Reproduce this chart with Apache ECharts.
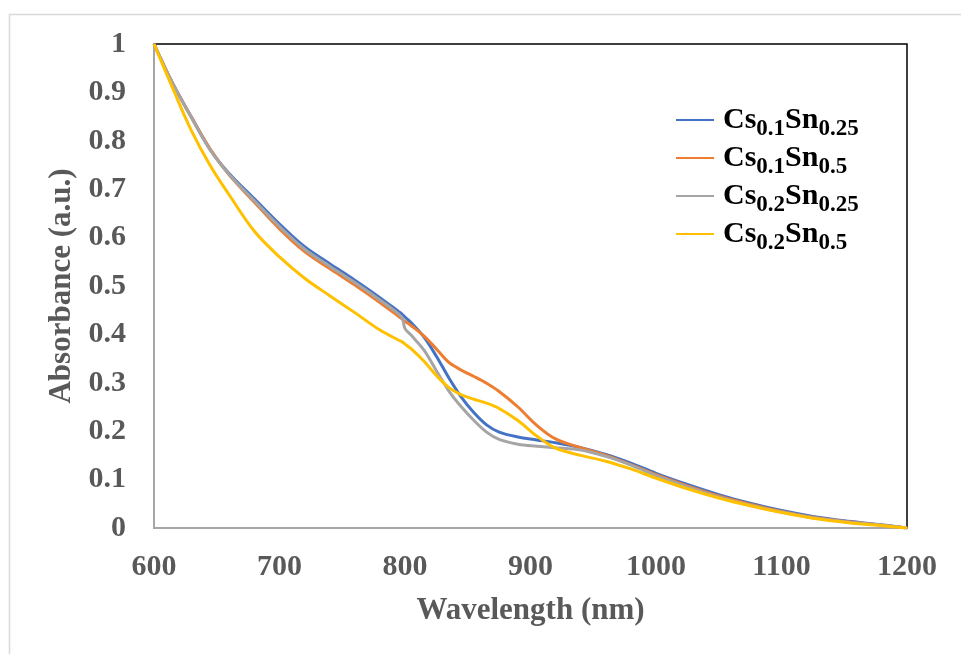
<!DOCTYPE html>
<html>
<head>
<meta charset="utf-8">
<style>
  html, body { margin: 0; padding: 0; background: #ffffff; }
  #chart { width: 961px; height: 654px; }
</style>
<script src="https://cdn.jsdelivr.net/npm/echarts@6/dist/echarts.min.js"></script>
</head>
<body>
<div id="chart"></div>
<script>
// Wavelength sampling (nm), shared by all four spectra
const wavelengths = [600, 615, 630, 645, 660, 680, 700, 720, 740, 760, 780, 795, 798, 800, 805, 815, 825, 835, 845, 855, 865, 875, 890, 905, 920, 940, 960, 980, 1000, 1025, 1050, 1075, 1100, 1125, 1150, 1175, 1200];

// Normalised absorbance of each composition
const cs01sn025 = [1.0, 0.918, 0.848, 0.781, 0.732, 0.680, 0.628, 0.581, 0.546, 0.512, 0.476, 0.447, 0.441, 0.436, 0.424, 0.395, 0.355, 0.310, 0.270, 0.238, 0.213, 0.198, 0.188, 0.182, 0.176, 0.166, 0.152, 0.134, 0.113, 0.090, 0.069, 0.051, 0.036, 0.024, 0.015, 0.008, 0.0];
const cs01sn05  = [1.0, 0.918, 0.848, 0.782, 0.729, 0.673, 0.618, 0.571, 0.536, 0.502, 0.466, 0.437, 0.431, 0.427, 0.418, 0.397, 0.370, 0.342, 0.326, 0.313, 0.299, 0.282, 0.250, 0.212, 0.184, 0.166, 0.150, 0.131, 0.110, 0.087, 0.066, 0.049, 0.034, 0.022, 0.014, 0.007, 0.0];
const cs02sn025 = [1.0, 0.918, 0.847, 0.780, 0.730, 0.676, 0.623, 0.576, 0.541, 0.507, 0.471, 0.442, 0.433, 0.412, 0.398, 0.368, 0.325, 0.283, 0.250, 0.222, 0.198, 0.183, 0.173, 0.169, 0.166, 0.161, 0.148, 0.130, 0.108, 0.085, 0.064, 0.047, 0.033, 0.021, 0.013, 0.007, 0.0];
const cs02sn05  = [1.0, 0.908, 0.820, 0.748, 0.688, 0.613, 0.560, 0.516, 0.480, 0.445, 0.409, 0.388, 0.384, 0.380, 0.370, 0.345, 0.315, 0.290, 0.275, 0.266, 0.258, 0.247, 0.222, 0.190, 0.165, 0.150, 0.138, 0.122, 0.103, 0.081, 0.062, 0.046, 0.032, 0.020, 0.012, 0.006, 0.0];

// Legend labels: composition subscripts for Cs and Sn
const seriesNames = ['Cs0.1Sn0.25', 'Cs0.1Sn0.5', 'Cs0.2Sn0.25', 'Cs0.2Sn0.5'];
const csSub = ['0.1', '0.1', '0.2', '0.2'];
const snSub = ['0.25', '0.5', '0.25', '0.5'];
const seriesValues = [cs01sn025, cs01sn05, cs02sn025, cs02sn05];
const seriesColors = ['#4472C4', '#ED7D31', '#A5A5A5', '#FFC000'];

// Axis ticks
const xTicks = { min: 600, max: 1200, interval: 100 };
const yTicks = { min: 0, max: 1, interval: 0.1 };

const serif = '"Liberation Serif", "Times New Roman", serif';

const chart = echarts.init(document.getElementById('chart'), null, { renderer: 'canvas' });

const series = seriesNames.map((name, i) => ({
  name: name,
  type: 'line',
  data: wavelengths.map((w, k) => [w, seriesValues[i][k]]),
  smooth: 0.35,
  symbol: 'none',
  lineStyle: { width: 3, color: seriesColors[i] },
  itemStyle: { color: seriesColors[i] },
  z: 3 + i
}));

const option = {
  backgroundColor: '#ffffff',
  animation: false,
  graphic: [{
    type: 'rect',
    shape: { x: 9.5, y: 14.5, width: 1000, height: 700 },
    style: { fill: 'none', stroke: '#D9D9D9', lineWidth: 1.5 },
    silent: true,
    z: -10
  }],
  grid: {
    left: 154, top: 44, right: 54, bottom: 126,
    show: true, borderColor: '#000000', borderWidth: 1.5,
    backgroundColor: 'transparent'
  },
  legend: {
    orient: 'vertical',
    left: 676,
    top: 105,
    padding: 0,
    itemGap: 2,
    itemWidth: 38,
    itemHeight: 14,
    icon: 'path://M0,6 L38,6 L38,8 L0,8 Z',
    data: seriesNames,
    formatter: function (name) {
      const i = seriesNames.indexOf(name);
      return '{m|Cs}{s|' + csSub[i] + '}{m|Sn}{s|' + snSub[i] + '}';
    },
    textStyle: {
      padding: [6, 0, 0, 4],
      rich: {
        m: { fontFamily: serif, fontWeight: 'bold', fontSize: 30, color: '#000000', verticalAlign: 'top' },
        s: { fontFamily: serif, fontWeight: 'bold', fontSize: 23, color: '#000000', verticalAlign: 'top', padding: [13, 0, 0, 0] }
      }
    }
  },
  xAxis: {
    type: 'value',
    min: xTicks.min, max: xTicks.max, interval: xTicks.interval,
    name: 'Wavelength (nm)',
    nameLocation: 'middle',
    nameGap: 67,
    nameTextStyle: { fontFamily: serif, fontWeight: 'bold', fontSize: 31, color: '#595959' },
    axisLine: { show: true, lineStyle: { color: '#A6A6A6', width: 2 } },
    axisTick: { show: false },
    splitLine: { show: false },
    axisLabel: {
      fontFamily: serif, fontWeight: 'bold', fontSize: 30, color: '#595959', margin: 24,
      formatter: function (v) { return String(v); }
    }
  },
  yAxis: {
    type: 'value',
    min: yTicks.min, max: yTicks.max, interval: yTicks.interval,
    name: 'Absorbance (a.u.)',
    nameLocation: 'middle',
    nameGap: 74,
    nameTextStyle: { fontFamily: serif, fontWeight: 'bold', fontSize: 31, color: '#595959' },
    axisLine: { show: true, lineStyle: { color: '#A6A6A6', width: 2 } },
    axisTick: { show: false },
    splitLine: { show: false },
    axisLabel: {
      fontFamily: serif, fontWeight: 'bold', fontSize: 30, color: '#595959', margin: 28,
      formatter: function (v) { return String(Math.round(v * 10) / 10); }
    }
  },
  series: series
};

chart.setOption(option);
</script>
</body>
</html>
